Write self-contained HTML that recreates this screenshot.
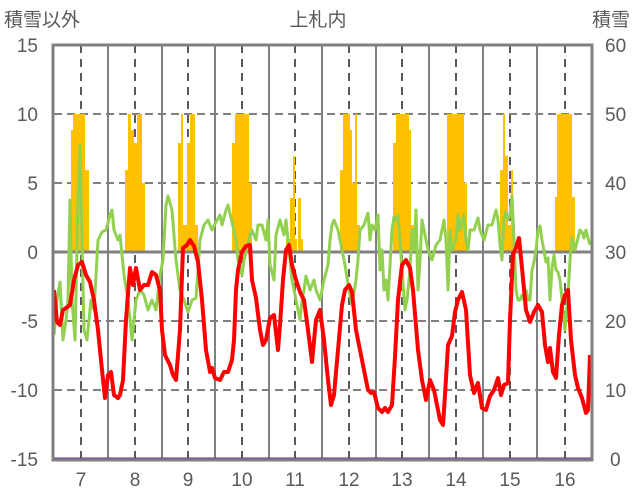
<!DOCTYPE html>
<html><head><meta charset="utf-8"><style>
body{margin:0;background:#fff;}
svg{display:block;font-family:"Liberation Sans","Noto Sans CJK JP",sans-serif;}
</style></head><body>
<svg width="636" height="501" viewBox="0 0 636 501">
<rect width="636" height="501" fill="#fff"/>
<g stroke="#bfbfbf" stroke-width="1">
<line x1="54" y1="114" x2="592" y2="114" stroke-dasharray="8,5" stroke="#808080" stroke-width="2"/>
<line x1="54" y1="183" x2="592" y2="183" stroke-dasharray="8,5" stroke="#808080" stroke-width="2"/>
<line x1="54" y1="321" x2="592" y2="321" stroke-dasharray="8,5" stroke="#808080" stroke-width="2"/>
<line x1="54" y1="390" x2="592" y2="390" stroke-dasharray="8,5" stroke="#808080" stroke-width="2"/>
</g>
<g stroke="#808080" stroke-width="2">
<line x1="108" y1="45" x2="108" y2="460"/><line x1="162" y1="45" x2="162" y2="460"/><line x1="215" y1="45" x2="215" y2="460"/><line x1="269" y1="45" x2="269" y2="460"/><line x1="322" y1="45" x2="322" y2="460"/><line x1="376" y1="45" x2="376" y2="460"/><line x1="429" y1="45" x2="429" y2="460"/><line x1="483" y1="45" x2="483" y2="460"/><line x1="537" y1="45" x2="537" y2="460"/>
</g>
<g stroke="#595959" stroke-width="2" stroke-dasharray="8,6">
<line x1="81" y1="45" x2="81" y2="460"/><line x1="135" y1="45" x2="135" y2="460"/><line x1="188" y1="45" x2="188" y2="460"/><line x1="242" y1="45" x2="242" y2="460"/><line x1="295" y1="45" x2="295" y2="460"/><line x1="349" y1="45" x2="349" y2="460"/><line x1="402" y1="45" x2="402" y2="460"/><line x1="456" y1="45" x2="456" y2="460"/><line x1="510" y1="45" x2="510" y2="460"/><line x1="565" y1="45" x2="565" y2="460"/>
</g>
<g fill="#ffc000">
<rect x="71" y="130" width="2" height="122"/><rect x="73" y="114" width="12" height="138"/><rect x="85" y="170" width="4" height="82"/>
<rect x="125" y="170" width="3" height="82"/><rect x="128" y="114" width="3" height="138"/><rect x="131" y="130" width="3" height="122"/><rect x="134" y="143" width="3" height="109"/><rect x="137" y="114" width="5" height="138"/><rect x="142" y="183" width="3" height="69"/>
<rect x="178" y="143" width="3" height="109"/><rect x="181" y="114" width="2" height="138"/><rect x="183" y="225" width="4" height="27"/><rect x="187" y="143" width="3" height="109"/><rect x="190" y="114" width="5" height="138"/><rect x="195" y="225" width="3" height="27"/>
<rect x="232" y="143" width="3" height="109"/><rect x="235" y="114" width="14" height="138"/><rect x="249" y="183" width="3" height="69"/>
<rect x="286" y="239" width="4" height="13"/><rect x="290" y="198" width="3" height="54"/><rect x="293" y="156" width="2" height="96"/><rect x="295" y="239" width="2" height="13"/><rect x="298" y="198" width="3" height="54"/><rect x="301" y="239" width="2" height="13"/>
<rect x="340" y="170" width="3" height="82"/><rect x="343" y="114" width="7" height="138"/><rect x="350" y="130" width="2" height="122"/><rect x="352" y="183" width="3" height="69"/><rect x="355" y="114" width="2" height="138"/><rect x="357" y="225" width="3" height="27"/>
<rect x="393" y="143" width="3" height="109"/><rect x="396" y="114" width="13" height="138"/><rect x="409" y="130" width="2" height="122"/><rect x="411" y="225" width="3" height="27"/>
<rect x="447" y="114" width="17" height="138"/><rect x="464" y="183" width="3" height="69"/>
<rect x="500" y="170" width="3" height="82"/><rect x="503" y="114" width="2" height="138"/><rect x="505" y="156" width="3" height="96"/><rect x="508" y="225" width="3" height="27"/><rect x="511" y="170" width="2" height="82"/>
<rect x="555" y="197" width="2" height="55"/><rect x="557" y="114" width="15" height="138"/><rect x="572" y="197" width="3" height="55"/>
</g>
<line x1="54" y1="252" x2="592" y2="252" stroke="#808080" stroke-width="3"/>
<polyline fill="none" stroke="#92d050" stroke-width="3" stroke-linejoin="round" points="54,335 57,300 60,282 63,340 66,320 68,300 70,200 72,300 75,340 78,200 80,145 82,240 84,330 87,340 91,300 94,310 98,240 102,232 106,230 110,215 112,210 114,230 118,240 120,235 124,275 128,300 132,340 134,320 136,300 140,290 144,295 148,310 152,300 156,310 160,275 163,260 166,205 168,196 172,210 176,260 180,290 184,300 188,312 192,300 196,298 198,270 200,240 204,225 208,220 212,230 216,222 220,215 222,225 226,210 228,205 232,222 236,240 238,260 242,275 244,260 248,245 250,235 252,230 256,240 258,225 262,225 266,240 268,220 270,265 274,280 276,235 280,220 284,235 286,220 290,260 292,280 294,290 298,310 300,320 302,300 304,290 306,276 310,290 314,280 316,290 320,300 324,280 328,265 330,240 332,225 334,220 338,230 342,250 345,265 349,290 352,305 356,280 358,260 360,230 364,225 368,213 370,240 372,225 375,230 378,215 380,270 382,250 384,290 386,280 388,300 392,230 394,217 396,220 398,215 400,240 402,270 405,310 407,300 410,270 412,230 414,250 416,210 418,290 420,260 422,220 424,230 428,250 432,260 436,245 440,240 444,220 446,240 448,290 450,230 452,250 454,245 456,240 458,215 460,230 462,220 464,215 466,240 468,250 470,230 474,230 478,218 480,230 484,240 488,225 492,225 496,210 498,220 500,245 502,260 504,220 506,212 508,220 510,215 512,196 514,240 516,290 518,300 520,300 522,295 524,300 526,290 528,300 530,300 532,270 534,262 536,250 538,230 540,226 542,240 546,262 548,258 550,300 552,268 554,255 556,270 558,272 560,280 562,300 565,330 568,295 570,260 572,238 575,250 578,238 580,230 582,232 584,238 586,230 588,238 590,245"/>
<polyline fill="none" stroke="#ff0000" stroke-width="4" stroke-linejoin="round" points="54,290 57,322 60,325 63,310 66,308 70,305 74,280 78,265 82,262 86,275 90,282 94,300 98,330 102,370 105,398 108,375 111,372 114,395 118,398 120,395 123,380 126,320 130,268 133,285 136,268 140,290 144,285 148,285 152,272 156,275 160,290 162,330 165,355 170,365 173,375 176,380 180,330 183,248 187,245 190,240 194,246 198,262 202,300 206,350 210,372 212,368 215,378 220,380 224,372 228,372 232,360 234,340 236,290 238,270 242,252 246,246 250,245 252,280 256,298 260,330 263,345 266,340 270,318 274,315 278,350 280,325 283,280 286,250 289,245 292,265 296,280 300,292 304,300 308,330 312,362 316,320 320,310 324,340 328,380 331,405 334,395 338,350 342,305 345,290 349,285 352,292 356,330 360,350 364,370 368,390 371,393 374,392 378,408 382,412 385,408 388,412 392,405 395,357 398,300 402,265 406,260 410,268 413,290 418,350 422,380 426,400 430,380 434,390 438,410 440,420 443,425 445,395 448,345 452,336 455,312 458,300 462,292 466,310 470,375 474,393 478,383 482,408 486,410 490,396 494,390 498,378 501,395 504,385 508,383 510,320 513,254 516,248 519,238 522,268 526,310 530,322 534,312 538,305 542,312 545,345 548,362 550,348 553,372 556,378 559,335 562,305 565,295 568,290 571,340 575,375 578,388 582,398 586,413 588,410 590,355"/>
<line x1="54" y1="459" x2="592" y2="459" stroke="#7030a0" stroke-width="3"/>
<rect x="53" y="45" width="539" height="415" fill="none" stroke="#808080" stroke-width="3"/>
<g fill="#595959" font-size="19" text-anchor="end">
<text x="38" y="52">15</text><text x="38" y="121">10</text><text x="38" y="190">5</text><text x="38" y="259">0</text><text x="38" y="328">-5</text><text x="38" y="397">-10</text><text x="38" y="466">-15</text>
</g>
<g fill="#595959" font-size="19" text-anchor="start">
<text x="605" y="52">60</text><text x="605" y="121">50</text><text x="605" y="190">40</text><text x="605" y="259">30</text><text x="605" y="328">20</text><text x="605" y="397">10</text><text x="610" y="466">0</text>
</g>
<g fill="#595959" font-size="19" text-anchor="middle">
<text x="81" y="486">7</text><text x="135" y="486">8</text><text x="188" y="486">9</text><text x="242" y="486">10</text><text x="295" y="486">11</text><text x="349" y="486">12</text><text x="402" y="486">13</text><text x="456" y="486">14</text><text x="510" y="486">15</text><text x="565" y="486">16</text>
</g>
<g fill="#595959" font-size="19">
<text x="4" y="26">積雪以外</text>
<text x="318" y="26" text-anchor="middle">上札内</text>
<text x="592" y="26">積雪</text>
</g>
</svg>
</body></html>
